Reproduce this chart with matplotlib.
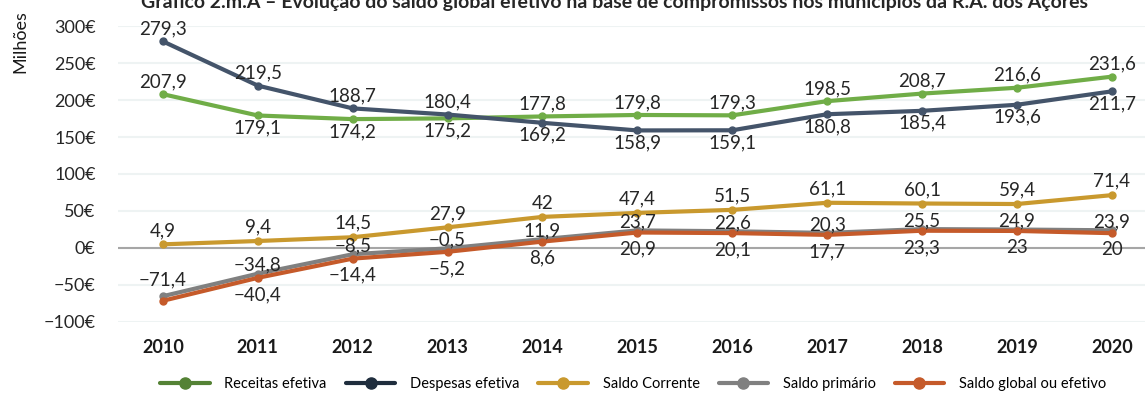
import matplotlib
matplotlib.use("Agg")
import matplotlib.pyplot as plt
import numpy as np

plt.rcParams["font.family"] = ["Lato", "DejaVu Sans"]

years = ["2010", "2011", "2012", "2013", "2014", "2015", "2016", "2017", "2018", "2019", "2020"]
receitas = [207.9, 179.1, 174.2, 175.2, 177.8, 179.8, 179.3, 198.5, 208.7, 216.6, 231.6]
despesas = [279.3, 219.5, 188.7, 180.4, 169.2, 158.9, 159.1, 180.8, 185.4, 193.6, 211.7]
saldo_corrente = [4.9, 9.4, 14.5, 27.9, 42, 47.4, 51.5, 61.1, 60.1, 59.4, 71.4]
saldo_primario = [-65.2, -34.8, -8.5, -0.5, 11.9, 23.7, 22.6, 20.3, 25.5, 24.9, 23.9]
saldo_global = [-71.4, -40.4, -14.4, -5.2, 8.6, 20.9, 20.1, 17.7, 23.3, 23, 20]

# label side per point: 1 above, -1 below, 0 no label
receitas_side = [1, -1, -1, -1, 1, 1, 1, 1, 1, 1, 1]
despesas_side = [1, 1, 1, 1, -1, -1, -1, -1, -1, -1, -1]
corrente_side = [1] * 11
primario_side = [0] + [1] * 10
global_side = [1] + [-1] * 10

series = [
    ("Receitas efetiva", receitas, receitas_side, "#70ad47", "#548235", 9, 9),
    ("Despesas efetiva", despesas, despesas_side, "#44546a", "#1f2d3d", 9, 9),
    ("Saldo Corrente", saldo_corrente, corrente_side, "#c9992e", "#c9992e", 10, 10),
    ("Saldo primário", saldo_primario, primario_side, "#808080", "#808080", 6, 6),
    ("Saldo global ou efetivo", saldo_global, global_side, "#c55a2a", "#c55a2a", 15, 12),
]


def fmt(v):
    s = f"{abs(v):g}".replace(".", ",")
    return ("\u2212" + s) if v < 0 else s


fig = plt.figure(figsize=(11.45, 3.95), dpi=100)
ax = fig.add_axes([0.103, 0.185, 0.897, 0.749])

x = np.arange(len(years))
handles = []
for name, vals, sides, color, legcolor, up, down in series:
    ax.plot(x, vals, color=color, lw=3.0, marker="o", ms=5, solid_capstyle="round", zorder=3, clip_on=False)
    h, = plt.plot([], [], color=legcolor, lw=3.0, marker="o", ms=8, solid_capstyle="round")
    handles.append(h)
    for xi, v, s in zip(x, vals, sides):
        if s == 0:
            continue
        off = up if s > 0 else -down
        ax.annotate(fmt(v), (xi, v), xytext=(0, off), textcoords="offset points",
                    ha="center", va="center", fontsize=13.5, color="#262626", zorder=4)

ax.set_xlim(-0.474, 10.35)
ax.set_ylim(-100, 300)
yt = np.arange(-100, 301, 50)
ax.set_yticks(yt)
ax.set_yticklabels([fmt(v) + "\u20ac" for v in yt], fontsize=13, color="#262626")
ax.set_xticks(x)
ax.set_xticklabels(years, fontsize=13, fontweight="bold", color="#1a1a1a")
ax.tick_params(length=0, axis="y", pad=16)
ax.tick_params(length=0, axis="x", pad=12)
for sp in ax.spines.values():
    sp.set_visible(False)
ax.grid(axis="y", color="#eef3f3", lw=1.5)
ax.set_axisbelow(True)
ax.axhline(0, color="#a6a6a6", lw=1.5, zorder=1)

fig.text(0.018, 1 - 42 / 395, "Milhões", rotation=90, ha="center", va="center", fontsize=13, color="#1a1a1a")
fig.text(0.537, 1 - 8 / 395, "Gráfico 2.m.A – Evolução do saldo global efetivo na base de compromissos nos municípios da R.A. dos Açores",
         ha="center", va="baseline", fontsize=14, fontweight="bold", color="#262626")

fig.legend(handles, [s[0] for s in series], loc="center", bbox_to_anchor=(0.553, 0.028), ncol=5,
           frameon=False, fontsize=10.5, handlelength=3.4, columnspacing=1.3, handletextpad=1.0)

fig.savefig("out.png", dpi=100)
